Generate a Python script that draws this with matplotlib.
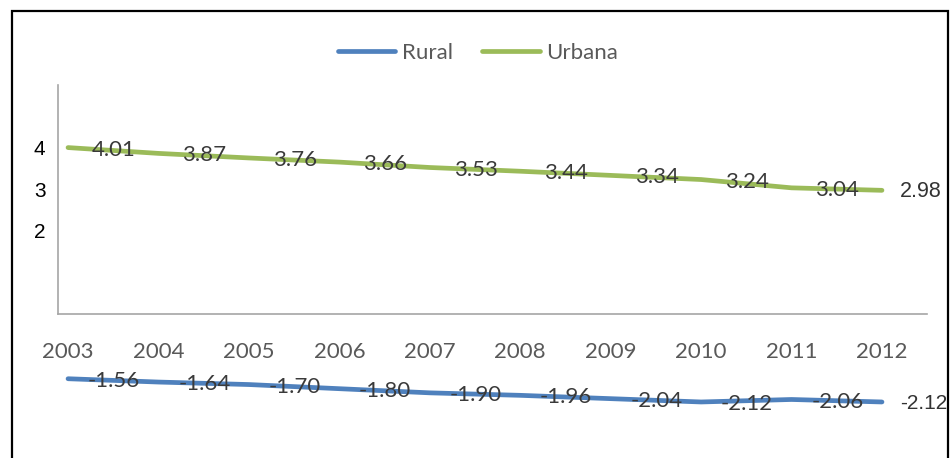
import matplotlib

matplotlib.use("Agg")
import matplotlib.pyplot as plt
from matplotlib.patches import Rectangle

years = [2003, 2004, 2005, 2006, 2007, 2008, 2009, 2010, 2011, 2012]
rural = [-1.56, -1.64, -1.70, -1.80, -1.90, -1.96, -2.04, -2.12, -2.06, -2.12]
urbana = [4.01, 3.87, 3.76, 3.66, 3.53, 3.44, 3.34, 3.24, 3.04, 2.98]
y_ticks = [2, 3, 4]

RURAL_COLOR = "#4F81BD"
URBANA_COLOR = "#9BBB59"
LABEL_COLOR = "#3A3A3A"
AXIS_COLOR = "#A6A6A6"

fig = plt.figure(figsize=(9.51, 4.58), dpi=100)
ax = fig.add_axes([58 / 951, 0.0, 869 / 951, 373 / 458])

ax.plot(years, rural, color=RURAL_COLOR, lw=3.4, solid_capstyle="round", label="Rural")
ax.plot(years, urbana, color=URBANA_COLOR, lw=3.4, solid_capstyle="round", label="Urbana")

ax.set_xlim(2002.889, 2012.498)
ax.set_ylim(-3.47, 5.518)

# value labels sit to the right of each point, over the line
for series in (urbana, rural):
    for year, value in zip(years[:-1], series[:-1]):
        ax.annotate(f"{value:.2f}", (year, value), xytext=(33, -1.5), textcoords="offset points",
                    ha="center", va="center", fontsize=16, family="Lato", color=LABEL_COLOR)
ax.annotate(f"{urbana[-1]:.2f}", (years[-1], urbana[-1]), xytext=(28, -1), textcoords="offset points",
            ha="center", va="center", fontsize=15.5, family="Liberation Sans", color="#333333")
ax.annotate(f"{rural[-1]:.2f}", (years[-1], rural[-1]), xytext=(30, -1), textcoords="offset points",
            ha="center", va="center", fontsize=15, family="Liberation Sans", color="#333333")

# axes: vertical spine only above zero, category axis drawn at zero
for side in ("top", "right"):
    ax.spines[side].set_visible(False)
ax.spines["left"].set_bounds(0, 5.518)
ax.spines["left"].set_color(AXIS_COLOR)
ax.spines["left"].set_linewidth(1.2)
ax.spines["bottom"].set_position(("data", 0))
ax.spines["bottom"].set_color(AXIS_COLOR)
ax.spines["bottom"].set_linewidth(1.2)

ax.set_xticks(years)
ax.set_xticklabels([str(y) for y in years], fontsize=16, family="Lato", color="#595959")
ax.tick_params(axis="x", length=0, pad=20)
ax.set_yticks(y_ticks)
ax.set_yticklabels([str(t) for t in y_ticks], fontsize=15, family="Liberation Sans", color="black")
ax.tick_params(axis="y", length=0, pad=9)

leg = fig.legend(loc="center", bbox_to_anchor=(478 / 951, 1 - 53 / 458), ncol=2, frameon=False,
                 prop={"family": "Lato", "size": 16}, handlelength=2.6, handletextpad=0.3,
                 columnspacing=1.3)
for text in leg.get_texts():
    text.set_color("#595959")

fig.patches.append(Rectangle((12 / 951, -0.05), 936 / 951, 1.05 - 11 / 458, transform=fig.transFigure,
                             fill=False, edgecolor="black", lw=1.6, clip_on=False))

fig.savefig("out.png", dpi=100)
